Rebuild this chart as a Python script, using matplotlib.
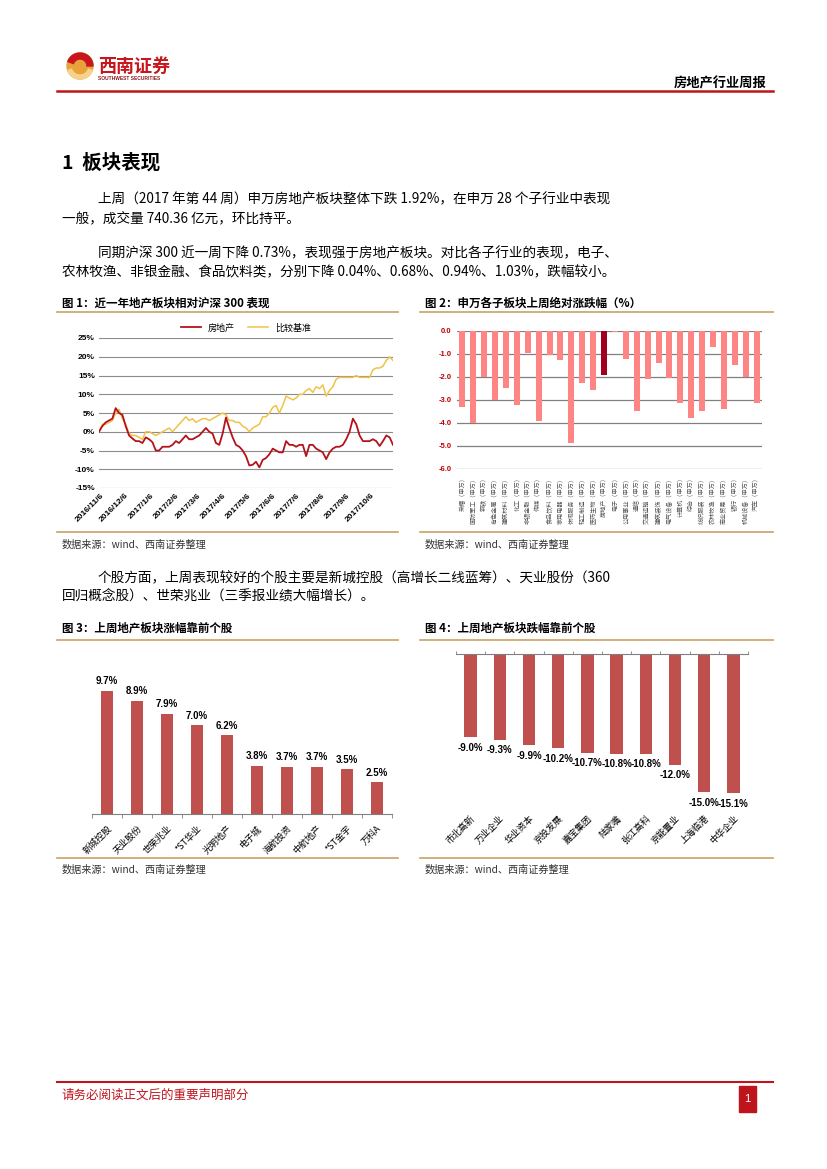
import matplotlib
matplotlib.use("Agg")
import matplotlib.pyplot as plt
from matplotlib.patches import Circle, Wedge, Rectangle
import matplotlib.transforms as mtrans
import pandas as pd

plt.rcParams['font.family'] = ['Noto Sans CJK SC', 'DejaVu Sans']
NUM = ['Liberation Sans', 'Noto Sans CJK SC']

# ---- 图1:近一年地产板块相对沪深300(%)----
START, END = "2016-11-04", "2017-11-02"
re_vals = [0, 1.5, 2.5, 3, 3.5, 6.3, 5, 4.5, 1.5, -1,
           -1.8, -2.5, -2.5, -3, -1.5, -2, -2.8, -5, -5, -4,
           -4, -4, -3.5, -2.5, -3, -2, -1, -2, -2, -1.5,
           -1, 0, 1, 0, -0.5, -3, -3.5, -0.5, 3.8, 1,
           -1.5, -3.5, -4, -5, -6.5, -9, -8.8, -8, -9.5, -7.5,
           -7, -6, -4.5, -5, -5.5, -5.5, -2.5, -3.5, -3.5, -4,
           -3.5, -3.5, -6.5, -3.5, -3.5, -4.5, -5, -5.5, -7.3, -5.5,
           -4.5, -4, -4, -3.5, -2, 0, 3.5, 2, -1, -2.5,
           -2.5, -2.5, -2, -2.5, -3.8, -2.5, -1, -1.5, -3.5]
bench_vals = [0, 2, 2, 2.5, 3, 5, 6, 3.5, 2, -0.5,
              -1, -1, -1.5, -2, 0, 0, -0.5, -1, -0.5, 0,
              0.5, 1, 0, 1, 2, 3, 4, 3, 3.5, 2.5,
              3, 3.5, 3.5, 3, 3.5, 4, 4.5, 5, 4.5, 3,
              3, 2.5, 2.5, 1.5, 1, 0, 1, 1.5, 2, 4,
              4, 5, 6.5, 7, 5, 7, 9.5, 9, 8.5, 9,
              10, 10, 11, 11.5, 10.5, 12, 11.5, 12.5, 9.5, 11,
              12, 14, 14.5, 14.5, 14.5, 14.5, 14.5, 15, 14.5, 14.5,
              14.5, 14.5, 16.5, 17, 17, 17.5, 19, 20, 19]
tick_dates = ["2016-11-06", "2016-12-06", "2017-01-06", "2017-02-06", "2017-03-06",
              "2017-04-06", "2017-05-06", "2017-06-06", "2017-07-06", "2017-08-06",
              "2017-09-06", "2017-10-06"]

# ---- 图2:申万各子板块上周绝对涨跌幅 ----
sw_names = ["采掘", "国防军工", "钢铁", "有色金属", "建筑材料", "化工", "非银金融",
            "传媒", "食品饮料", "家用电器", "休闲服务", "轻工制造", "医药生物", "房地产",
            "电子", "公用事业", "通信", "交通运输", "建筑装饰", "电气设备", "计算机",
            "综合", "纺织服装", "农林牧渔", "商业贸易", "银行", "机械设备", "汽车"]
sw_vals = [-3.3, -4.0, -2.0, -3.0, -2.5, -3.2, -0.94, -3.9, -1.03, -1.25, -4.85, -2.25,
           -2.55, -1.92, -0.04, -1.2, -3.5, -2.1, -1.4, -2.05, -3.15, -3.8, -3.5, -0.68,
           -3.4, -1.5, -2.0, -3.15]

# ---- 图3 / 图4:涨跌幅靠前个股 ----
up_names = ["新城控股", "天业股份", "世荣兆业", "*ST华业", "光明地产", "电子城",
            "海航投资", "中航地产", "*ST金宇", "万科A"]
up_vals = [9.7, 8.9, 7.9, 7.0, 6.2, 3.8, 3.7, 3.7, 3.5, 2.5]
down_names = ["市北高新", "万业企业", "华业资本", "京投发展", "嘉宝集团", "陆家嘴",
              "张江高科", "京能置业", "上海临港", "中华企业"]
down_vals = [-9.0, -9.3, -9.9, -10.2, -10.7, -10.8, -10.8, -12.0, -15.0, -15.1]

RED = "#C0141C"
GOLD = "#C9A266"
LP, RP, CM, CO = "\uff08", "\uff09", "\uff0c", "\uff1a"
W, H = 827, 1169
fig = plt.figure(figsize=(W / 100, H / 100), dpi=100)
bg = fig.add_axes([0, 0, 1, 1], zorder=0)
bg.set_xlim(0, W); bg.set_ylim(H, 0); bg.axis("off")


def box(l, t, r, b):
    return fig.add_axes([l / W, 1 - b / H, (r - l) / W, (b - t) / H], zorder=2)


# 页眉
bg.add_patch(Circle((80, 66), 13, color="#E9A23B"))
bg.add_patch(Wedge((80, 66), 13, 200, 360, width=6, color="#C8161D"))
bg.add_patch(Wedge((80, 66), 13, 20, 160, width=4, color="#F6D28A"))
bg.text(98, 66, "西南证券", color="#C8161D", fontsize=13, fontweight="bold", va="center")
bg.text(98, 79, "SOUTHWEST SECURITIES", color="#8B1A1A", fontsize=3.5,
        family=NUM, fontweight="bold", va="center")
bg.text(766, 83, "房地产行业周报", fontsize=9.5, fontweight="bold", ha="right", va="center")
bg.plot([57, 773], [91, 91], color=RED, lw=1.8)

# 正文
bg.text(62, 163, "1  板块表现", fontsize=14, fontweight="bold", va="center")
body = [
    (98, 199, f"上周{LP}2017 年第 44 周{RP}申万房地产板块整体下跌 1.92%{CM}在申万 28 个子行业中表现"),
    (62, 218, f"一般{CM}成交量 740.36 亿元{CM}环比持平。"),
    (98, 253, f"同期沪深 300 近一周下降 0.73%{CM}表现强于房地产板块。对比各子行业的表现{CM}电子、"),
    (62, 272, f"农林牧渔、非银金融、食品饮料类{CM}分别下降 0.04%、0.68%、0.94%、1.03%{CM}跌幅较小。"),
    (98, 578, f"个股方面{CM}上周表现较好的个股主要是新城控股{LP}高增长二线蓝筹{RP}、天业股份{LP}360"),
    (62, 597, f"回归概念股{RP}、世荣兆业{LP}三季报业绩大幅增长{RP}。"),
]
for x, y, s in body:
    bg.text(x, y, s, fontsize=9.8, va="center")

titles = [(62, 303, f"图 1{CO}近一年地产板块相对沪深 300 表现"),
          (425, 303, f"图 2{CO}申万各子板块上周绝对涨跌幅{LP}%{RP}"),
          (62, 628, f"图 3{CO}上周地产板块涨幅靠前个股"),
          (425, 628, f"图 4{CO}上周地产板块跌幅靠前个股")]
for x, y, s in titles:
    bg.text(x, y, s, fontsize=8.3, fontweight="bold", va="center")
for y in (312, 532, 640, 858):
    bg.plot([57, 398], [y, y], color=GOLD, lw=1.2)
    bg.plot([420, 773], [y, y], color=GOLD, lw=1.2)
for x, y in ((62, 545), (425, 545), (62, 870), (425, 870)):
    bg.text(x, y, f"数据来源{CO}wind、西南证券整理", fontsize=7.3, style="italic",
            color="#333333", va="center")

# 页脚
bg.plot([57, 773], [1082, 1082], color=RED, lw=1.5)
bg.text(62, 1095, "请务必阅读正文后的重要声明部分", color=RED, fontsize=9, va="center")
bg.add_patch(Rectangle((739, 1086), 17, 26, color=RED))
bg.text(747.5, 1099, "1", color="white", fontsize=8, ha="center", va="center", family=NUM)

# ---- 图1 ----
ax1 = box(99, 338, 393, 488)
dates = pd.date_range(START, END, periods=len(re_vals))
l2, = ax1.plot(dates, bench_vals, color="#EFC24A", lw=1.1, label="比较基准")
l1, = ax1.plot(dates, re_vals, color="#B5121B", lw=1.3, label="房地产")
ax1.set_ylim(-15, 25)
ax1.set_xlim(dates[0], dates[-1])
ax1.set_yticks(range(-15, 30, 5))
ax1.set_yticklabels([f"{v}%" for v in range(-15, 30, 5)], family=NUM,
                    fontweight="bold", fontsize=6)
td = pd.to_datetime(tick_dates)
ax1.set_xticks(td)
ax1.set_xticklabels([f"{t.year}/{t.month}/{t.day}" for t in td], rotation=45,
                    ha="right", va="top", rotation_mode="anchor", family=NUM,
                    fontweight="bold", fontsize=6)
ax1.grid(axis="y", color="#8C8C8C", lw=0.8)
ax1.tick_params(length=0, pad=3)
for s in ax1.spines.values():
    s.set_visible(False)
ax1.legend(handles=[l1, l2], loc="lower center", bbox_to_anchor=(0.5, 1.0), ncol=2,
           frameon=False, fontsize=6.5, handlelength=2.2, columnspacing=1.5,
           borderaxespad=0.2)

# ---- 图2 ----
ax2 = box(457, 331, 762, 469)
cols = ["#A0001E" if n == "房地产" else "#FF8484" for n in sw_names]
ax2.bar(range(len(sw_vals)), sw_vals, width=0.55, color=cols, zorder=3)
ax2.set_ylim(-6, 0)
ax2.set_xlim(-0.5, len(sw_vals) - 0.5)
ax2.set_yticks([0, -1, -2, -3, -4, -5, -6])
ax2.set_yticklabels([f"{v:.1f}" for v in [0, -1, -2, -3, -4, -5, -6]], family=NUM,
                    fontweight="bold", fontsize=5.5, color="#C00000")
ax2.set_xticks(range(len(sw_names)))
ax2.set_xticklabels([n + f"{LP}申万{RP}" for n in sw_names], rotation=90, ha="center",
                    va="top", fontsize=4.4, color="#555555")
ax2.grid(axis="y", color="#808080", lw=0.9, zorder=0)
ax2.tick_params(length=0, pad=4)
for s in ax2.spines.values():
    s.set_visible(False)

# ---- 图3 ----
BAR = "#C0504D"
ax3 = box(92, 655, 392, 814)
x3 = range(len(up_vals))
ax3.bar(x3, up_vals, width=0.42, color=BAR)
for i, v in zip(x3, up_vals):
    ax3.text(i, v + 0.35, f"{v:.1f}%", ha="center", va="bottom", fontsize=7,
             fontweight="bold", family=NUM)
ax3.set_ylim(0, 12.5)
ax3.set_xlim(-0.5, len(up_vals) - 0.5)
ax3.set_yticks([])
ax3.set_xticks(x3)
ax3.set_xticklabels(up_names, rotation=45, ha="right", va="top",
                    rotation_mode="anchor", fontsize=6.5)
ax3.set_xticks([i - 0.5 for i in range(len(up_vals) + 1)], minor=True)
ax3.tick_params(axis="x", which="major", length=0, pad=7)
ax3.tick_params(axis="x", which="minor", length=3, color="#808080")
for k in ("top", "left", "right"):
    ax3.spines[k].set_visible(False)
ax3.spines["bottom"].set_color("#808080")

# ---- 图4 ----
ax4 = box(456, 654, 748, 808)
x4 = range(len(down_vals))
ax4.bar(x4, down_vals, width=0.43, color=BAR)
for i, v in zip(x4, down_vals):
    ax4.text(i, v - 0.6, f"{v:.1f}%", ha="center", va="top", fontsize=7,
             fontweight="bold", family=NUM)
ax4.set_ylim(-16.7, 0)
ax4.set_xlim(-0.5, len(down_vals) - 0.5)
ax4.set_yticks([])
ax4.set_xticks(x4)
off = mtrans.ScaledTranslation(8 / 100, 0, fig.dpi_scale_trans)
ax4.set_xticklabels(down_names, rotation=45, ha="right", va="top",
                    rotation_mode="anchor", fontsize=6.5)
for lab in ax4.get_xticklabels():
    lab.set_transform(lab.get_transform() + off)
ax4.set_xticks([i - 0.5 for i in range(len(down_vals) + 1)], minor=True)
ax4.tick_params(axis="x", which="major", length=0, pad=4)
ax4.tick_params(axis="x", which="minor", top=True, bottom=False, length=2,
                color="#808080", direction="out")
for k in ("bottom", "left", "right"):
    ax4.spines[k].set_visible(False)
ax4.spines["top"].set_color("#808080")

fig.savefig("out.png", dpi=100)
